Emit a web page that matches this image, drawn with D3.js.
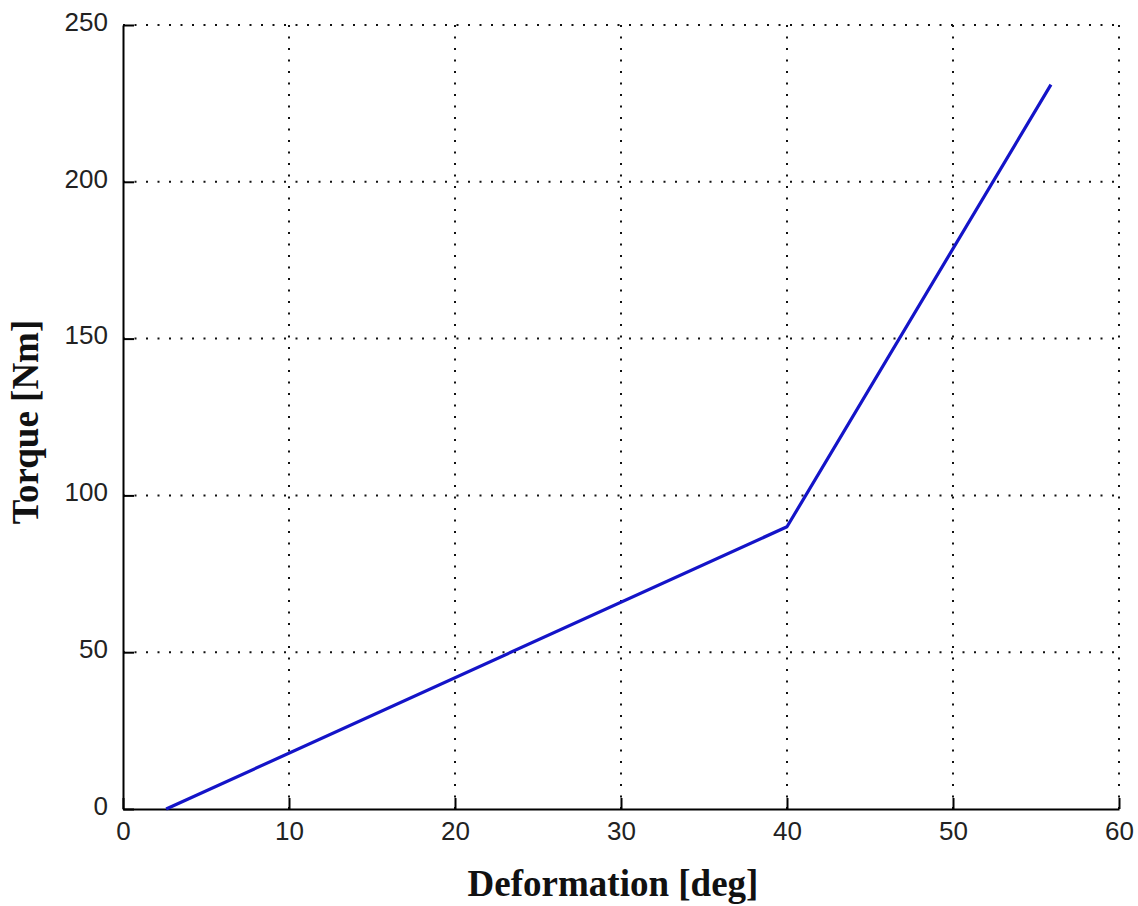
<!DOCTYPE html>
<html>
<head>
<meta charset="utf-8">
<script src="https://cdn.jsdelivr.net/npm/d3@7"></script>
<style>
  html, body { margin: 0; padding: 0; background: #fff; }
  svg { display: block; }
</style>
</head>
<body>
<svg id="chart" width="1138" height="906"></svg>
<script>
// Torque vs. deformation characteristic (piecewise linear spring)
const deformation = [2.6, 40, 55.9];
const torque = [0, 90, 231];
const xTicks = [0, 10, 20, 30, 40, 50, 60];
const yTicks = [0, 50, 100, 150, 200, 250];
const xLabel = "Deformation [deg]";
const yLabel = "Torque [Nm]";

const W = 1138, H = 906;
const m = { left: 123, right: 19, top: 25, bottom: 97 };
const svg = d3.select("#chart");

const x = d3.scaleLinear().domain([0, 60]).range([m.left, W - m.right]);
const y = d3.scaleLinear().domain([0, 250]).range([H - m.bottom, m.top]);

// dotted grid
const grid = svg.append("g")
  .attr("stroke", "#111")
  .attr("stroke-width", 2)
  .attr("stroke-dasharray", "2,9.5");
grid.selectAll("line.v").data(xTicks.filter(d => d > 0)).join("line")
  .attr("class", "v")
  .attr("x1", d => x(d)).attr("x2", d => x(d))
  .attr("y1", y(0)).attr("y2", y(250));
grid.selectAll("line.h").data(yTicks.filter(d => d > 0)).join("line")
  .attr("class", "h")
  .attr("x1", x(0)).attr("x2", x(60))
  .attr("y1", d => y(d)).attr("y2", d => y(d));

// axes with inward ticks
const tickFont = "'Liberation Sans', Arial, sans-serif";
const gx = svg.append("g")
  .attr("transform", `translate(0,${y(0)})`)
  .call(d3.axisBottom(x).tickValues(xTicks).tickFormat(d3.format("d"))
    .tickSizeInner(-11).tickSizeOuter(0));
gx.selectAll("text").attr("y", 31).attr("dy", 0);

const gy = svg.append("g")
  .attr("transform", `translate(${x(0)},0)`)
  .call(d3.axisLeft(y).tickValues(yTicks).tickFormat(d3.format("d"))
    .tickSizeInner(-11).tickSizeOuter(0));
gy.selectAll("text").attr("x", -15).attr("dy", "0.2em");

[gx, gy].forEach(g => {
  g.select(".domain").attr("stroke", "#000").attr("stroke-width", 2);
  g.selectAll(".tick line").attr("stroke", "#000").attr("stroke-width", 2);
  g.selectAll("text")
    .attr("fill", "#222")
    .style("font-family", tickFont)
    .style("font-size", "26px");
});

// data curve
const pts = deformation.map((d, i) => [d, torque[i]]);
svg.append("path")
  .datum(pts)
  .attr("fill", "none")
  .attr("stroke", "#1414c8")
  .attr("stroke-width", 3.2)
  .attr("stroke-linejoin", "round")
  .attr("d", d3.line().x(d => x(d[0])).y(d => y(d[1])));

// axis titles
const titleFont = "'Liberation Serif', 'Times New Roman', serif";
svg.append("text")
  .attr("x", 613).attr("y", 896)
  .attr("text-anchor", "middle")
  .attr("fill", "#111")
  .style("font-family", titleFont)
  .style("font-weight", "bold")
  .style("font-size", "37px")
  .text(xLabel);

svg.append("text")
  .attr("transform", "translate(38,422) rotate(-90)")
  .attr("text-anchor", "middle")
  .attr("fill", "#111")
  .style("font-family", titleFont)
  .style("font-weight", "bold")
  .style("font-size", "37px")
  .text(yLabel);
</script>
</body>
</html>
